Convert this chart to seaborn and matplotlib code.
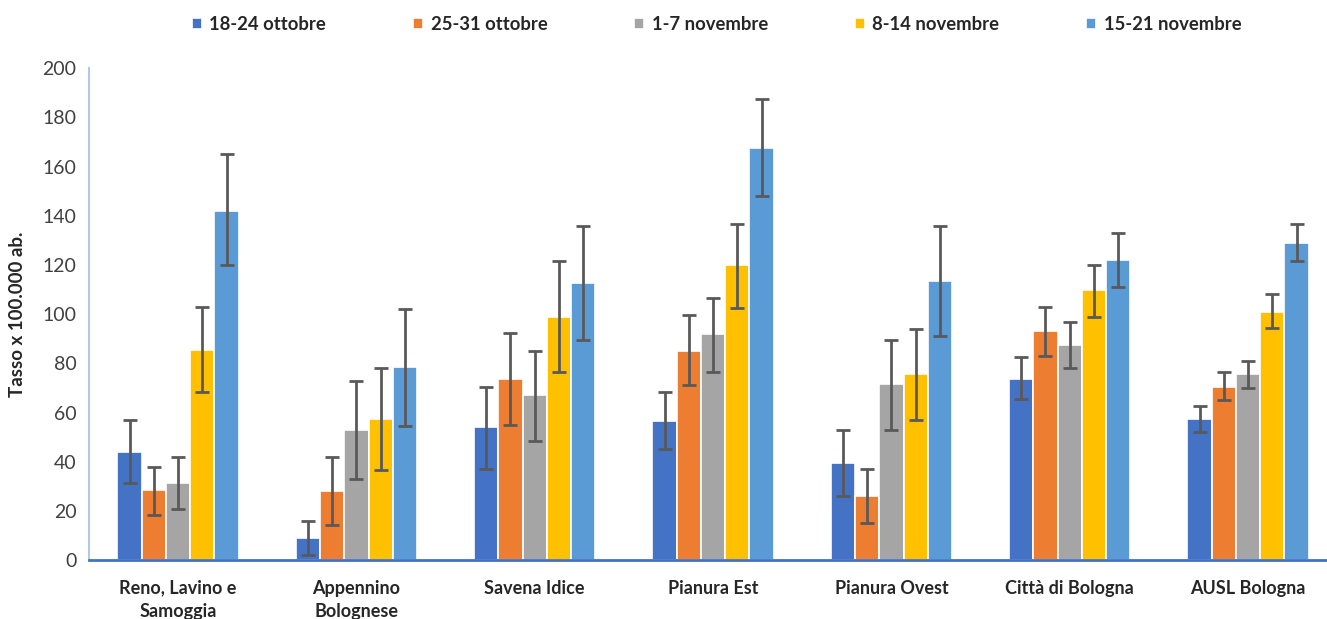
import numpy as np
import pandas as pd
import matplotlib
matplotlib.use("Agg")
import matplotlib.pyplot as plt
import seaborn as sns

# categories and series
districts = ["Reno, Lavino e\nSamoggia", "Appennino\nBolognese", "Savena Idice",
             "Pianura Est", "Pianura Ovest", "Città di Bologna", "AUSL Bologna"]
weeks = ["18-24 ottobre", "25-31 ottobre", "1-7 novembre", "8-14 novembre", "15-21 novembre"]
colors = ["#4472C4", "#ED7D31", "#A5A5A5", "#FFC000", "#5B9BD5"]

# rate per week (one list per week, in district order)
w1 = [44, 9, 54, 56.5, 39.5, 73.5, 57.5]
w2 = [28.5, 28, 73.5, 85, 26, 93, 70.5]
w3 = [31.5, 53, 67, 92, 71.5, 87.5, 75.5]
w4 = [85.5, 57.5, 99, 120, 75.5, 110, 101]
w5 = [142, 78.5, 112.5, 167.5, 113.5, 122, 129]

# confidence interval bounds
lo1 = [31.5, 2, 37, 45, 26, 65.5, 52]
hi1 = [57, 16, 70.5, 68.5, 53, 82.5, 62.5]
lo2 = [18.5, 14.5, 55, 71, 15, 83, 65]
hi2 = [38, 42, 92.5, 99.5, 37, 103, 76.5]
lo3 = [21, 33, 48.5, 76.5, 53, 78, 70]
hi3 = [42, 73, 85, 106.5, 89.5, 97, 81]
lo4 = [68.5, 36.5, 76.5, 102.5, 57, 99, 94.5]
hi4 = [103, 78, 121.5, 136.5, 94, 120, 108]
lo5 = [120, 54.5, 89.5, 148, 91, 111, 121.5]
hi5 = [165, 102, 136, 187.5, 136, 133, 136.5]

values = [w1, w2, w3, w4, w5]
lows = [lo1, lo2, lo3, lo4, lo5]
highs = [hi1, hi2, hi3, hi4, hi5]

rows = []
for wk, vals, lo, hi in zip(weeks, values, lows, highs):
    for d, v, l, h in zip(districts, vals, lo, hi):
        rows.append({"district": d, "week": wk, "rate": v, "lo": l, "hi": h})
df = pd.DataFrame(rows)

sns.set_style("white")
plt.rcParams["font.family"] = ["Lato", "DejaVu Sans"]

fig = plt.figure(figsize=(13.27, 6.19), dpi=100)
ax = fig.add_axes([0.067, 0.095, 0.934, 0.795])

sns.barplot(data=df, x="district", y="rate", hue="week", order=districts,
            hue_order=weeks, palette=colors, width=0.68, errorbar=None,
            edgecolor="white", linewidth=1.2, saturation=1, ax=ax, legend=True)

# asymmetric error bars on each bar centre
for i, wk in enumerate(weeks):
    cont = ax.containers[i]
    sub = df[df.week == wk].set_index("district").loc[districts]
    xs = [p.get_x() + p.get_width() / 2 for p in cont.patches]
    yerr = np.array([sub.rate - sub.lo, sub.hi - sub.rate])
    ax.errorbar(xs, sub.rate.values, yerr=yerr, fmt="none", ecolor="#595959",
                elinewidth=2, capsize=5, capthick=2, zorder=5)

ax.set_ylim(0, 200)
ax.set_xlim(-0.5, 6.45)
ax.set_yticks(range(0, 201, 20))
ax.set_xlabel("")
ax.set_ylabel("Tasso x 100.000 ab.", fontsize=13.5, fontweight="bold", labelpad=12)

for s in ["top", "right"]:
    ax.spines[s].set_visible(False)
ax.spines["left"].set_color("#B4C7E7")
ax.spines["left"].set_linewidth(1.5)
ax.spines["bottom"].set_color("#4472C4")
ax.spines["bottom"].set_linewidth(2)
ax.tick_params(axis="y", direction="inout", length=10, width=1.5, color="#B4C7E7",
               labelsize=14, labelcolor="#404040", pad=4)
ax.tick_params(axis="x", length=0, labelsize=13, pad=14)
for t in ax.get_xticklabels():
    t.set_fontweight("bold")
    t.set_linespacing(1.45)
    t.set_verticalalignment("top")

handles, labels = ax.get_legend_handles_labels()
ax.get_legend().remove()
leg = fig.legend(handles, labels, loc="center", bbox_to_anchor=(0.540, 0.96),
                 ncol=5, frameon=False, fontsize=13.3, handlelength=0.55,
                 handleheight=0.55, handletextpad=0.4, columnspacing=4.7)
for t in leg.get_texts():
    t.set_fontweight("bold")

fig.savefig("out.png", dpi=100, facecolor="white")
